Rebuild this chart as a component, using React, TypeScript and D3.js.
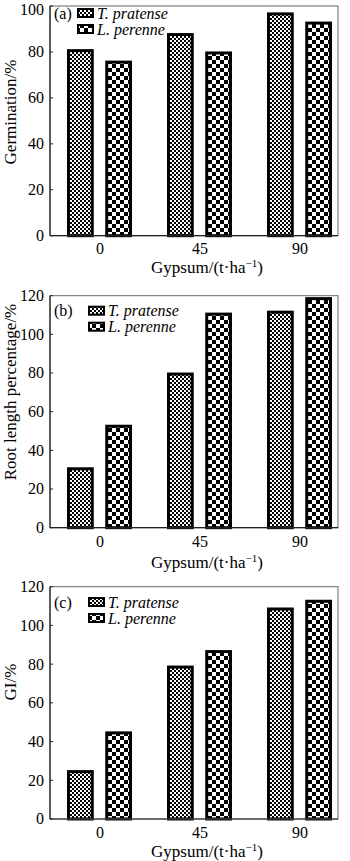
import React from "react";
import * as d3 from "d3";

const categories = ["0", "45", "90"];
const seriesNames = ["T. pratense", "L. perenne"];
const germinationT = [81, 88, 97];
const germinationL = [76, 80, 93];
const rootT = [31, 80, 112];
const rootL = [53, 111, 119];
const giT = [25, 79, 109];
const giL = [45, 87, 113];
const ticksA = [0, 20, 40, 60, 80, 100];
const ticksBC = [0, 20, 40, 60, 80, 100, 120];

const W = 350;
const H = 861;
const FONT = "'Liberation Serif', 'Times New Roman', serif";

type PanelProps = {
  label: string;
  yTitle: string;
  tVals: number[];
  lVals: number[];
  yMax: number;
  ticks: number[];
  y0: number;
  yTop: number;
  tickBase: number;
  titleBase: number;
  yTitleCenter: number;
  legendY: number;
  legendSwX: number;
};

function Panel(p: PanelProps) {
  const left = 50;
  const right = 338;
  const x = d3.scaleBand<string>().domain(categories).range([50, 350]).padding(0);
  const inner = d3.scaleBand<string>().domain(["T", "L"]).range([-33, 32]).paddingInner(0.3);
  const y = d3.scaleLinear().domain([0, p.yMax]).range([p.y0, p.yTop]);
  const center = (c: string) => (x(c) as number) + x.bandwidth() / 2;
  const series = [
    { key: "T", vals: p.tVals, fill: "url(#fine)" },
    { key: "L", vals: p.lVals, fill: "url(#coarse)" },
  ];
  return (
    <g>
      {series.map((s) =>
        categories.map((c, i) => (
          <rect
            key={s.key + c}
            x={center(c) + (inner(s.key) as number) + 1.5}
            y={y(s.vals[i]) + 1}
            width={inner.bandwidth() - 3}
            height={y(0) - y(s.vals[i]) - 1}
            fill={s.fill}
            stroke="#000"
            strokeWidth={3}
          />
        ))
      )}
      <rect x={left} y={p.yTop} width={right - left} height={p.y0 - p.yTop} fill="none" stroke="#666" strokeWidth={1} />
      <line x1={left} x2={left} y1={p.yTop} y2={p.y0} stroke="#222" strokeWidth={1.2} />
      <line x1={left} x2={right} y1={p.y0} y2={p.y0} stroke="#222" strokeWidth={1.2} />
      {p.ticks.map((t) => (
        <g key={t}>
          <line x1={left} x2={left + 3} y1={y(t)} y2={y(t)} stroke="#222" strokeWidth={1} />
          <text x={44} y={Math.max(y(t) + 5.4, 15)} textAnchor="end" fontSize={16} fontFamily={FONT}>
            {t}
          </text>
        </g>
      ))}
      {categories.map((c) => (
        <text key={c} x={center(c)} y={p.tickBase} textAnchor="middle" fontSize={16} fontFamily={FONT}>
          {c}
        </text>
      ))}
      <text x={207} y={p.titleBase} textAnchor="middle" fontSize={17} fontFamily={FONT}>
        Gypsum/(t·ha
        <tspan dy={-6} fontSize={11}>−1</tspan>
        <tspan dy={6}>)</tspan>
      </text>
      <text
        transform={`translate(16,${p.yTitleCenter}) rotate(-90)`}
        textAnchor="middle"
        fontSize={17}
        fontFamily={FONT}
      >
        {p.yTitle}
      </text>
      <text x={54} y={p.legendY + 5.5} fontSize={16} fontFamily={FONT}>
        {p.label}
      </text>
      {seriesNames.map((n, i) => (
        <g key={n}>
          <rect
            x={p.legendSwX}
            y={p.legendY - 4 + i * 16}
            width={15}
            height={8}
            fill={i === 0 ? "url(#fine)" : "url(#coarse)"}
            stroke="#000"
            strokeWidth={2}
          />
          <text x={p.legendSwX + 19} y={p.legendY + 5.5 + i * 16} fontSize={16} fontStyle="italic" fontFamily={FONT}>
            {n}
          </text>
        </g>
      ))}
    </g>
  );
}

export default function App() {
  return (
    <svg width={W} height={H} style={{ position: "absolute", left: 0, top: 0, background: "#fff" }}>
      <defs>
        <pattern id="fine" patternUnits="userSpaceOnUse" width={4} height={4}>
          <rect width={4} height={4} fill="#fff" />
          <rect width={2} height={2} fill="#000" />
          <rect x={2} y={2} width={2} height={2} fill="#000" />
        </pattern>
        <pattern id="coarse" patternUnits="userSpaceOnUse" width={8} height={8}>
          <rect width={8} height={8} fill="#fff" />
          <rect width={4} height={4} fill="#000" />
          <rect x={4} y={4} width={4} height={4} fill="#000" />
        </pattern>
      </defs>
      <rect width={W} height={H} fill="#fff" />
      <Panel
        label="(a)"
        yTitle="Germination/%"
        tVals={germinationT}
        lVals={germinationL}
        yMax={100}
        ticks={ticksA}
        y0={235.7}
        yTop={6}
        tickBase={254}
        titleBase={273}
        yTitleCenter={112}
        legendY={13}
        legendSwX={78}
      />
      <Panel
        label="(b)"
        yTitle="Root length percentage/%"
        tVals={rootT}
        lVals={rootL}
        yMax={120}
        ticks={ticksBC}
        y0={527.7}
        yTop={295.7}
        tickBase={546.5}
        titleBase={568}
        yTitleCenter={392}
        legendY={310.7}
        legendSwX={89}
      />
      <Panel
        label="(c)"
        yTitle="GI/%"
        tVals={giT}
        lVals={giL}
        yMax={120}
        ticks={ticksBC}
        y0={819}
        yTop={586.7}
        tickBase={838}
        titleBase={856.5}
        yTitleCenter={682}
        legendY={602}
        legendSwX={89}
      />
    </svg>
  );
}
